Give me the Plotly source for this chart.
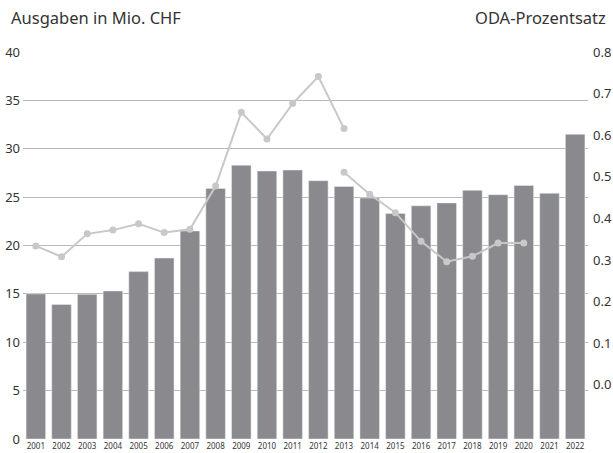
import plotly.graph_objects as go

years = [str(y) for y in range(2001, 2023)]
ausgaben = [15.0, 13.9, 14.95, 15.3, 17.3, 18.7, 21.5, 25.9, 28.3, 27.7, 27.8,
            26.7, 26.1, 24.9, 23.3, 24.1, 24.4, 25.7, 25.25, 26.2, 25.4, 31.5]

# ODA share, old method (2001-2013) and new method (2013-2020)
oda_years_alt = [str(y) for y in range(2001, 2014)]
oda_alt = [0.334, 0.308, 0.363, 0.372, 0.387, 0.366, 0.374, 0.478, 0.655,
           0.591, 0.676, 0.741, 0.616]
oda_years_neu = [str(y) for y in range(2013, 2021)]
oda_neu = [0.511, 0.458, 0.414, 0.345, 0.296, 0.309, 0.341, 0.341]
oda_ticks = [0.0, 0.1, 0.2, 0.3, 0.4, 0.5, 0.6, 0.7, 0.8]

BAR_COLOR = "#8a8a8e"
LINE_COLOR = "#c8c8c8"
GRID_COLOR = "#b8b8b8"
TEXT_COLOR = "#333333"

fig = go.Figure()

fig.add_trace(
    go.Bar(
        x=years,
        y=ausgaben,
        marker_color=BAR_COLOR,
        name="Ausgaben",
    )
)

for xs, ys in [(oda_years_alt, oda_alt), (oda_years_neu, oda_neu)]:
    fig.add_trace(
        go.Scatter(
            x=xs,
            y=ys,
            yaxis="y2",
            mode="lines+markers",
            line=dict(color=LINE_COLOR, width=2),
            marker=dict(color=LINE_COLOR, size=7),
            name="ODA",
        )
    )

fig.update_layout(
    width=613,
    height=453,
    margin=dict(l=23, r=25, t=52, b=14, autoexpand=False),
    plot_bgcolor="white",
    paper_bgcolor="white",
    showlegend=False,
    bargap=0.24,
    font=dict(family="Noto Sans", color=TEXT_COLOR, size=13),
    xaxis=dict(
        type="category",
        range=[-0.5, len(years) - 0.5],
        automargin=False,
        showgrid=False,
        showline=False,
        ticks="",
        tickfont=dict(size=8),
        ticklabelstandoff=1,
    ),
    yaxis=dict(
        range=[0, 40],
        dtick=5,
        automargin=False,
        showgrid=True,
        gridcolor=GRID_COLOR,
        gridwidth=1,
        zeroline=False,
        ticks="",
        ticklabelstandoff=2,
    ),
    yaxis2=dict(
        overlaying="y",
        side="right",
        range=[-0.13, 0.8],
        tickvals=oda_ticks,
        tickformat=".1f",
        automargin=False,
        showgrid=False,
        zeroline=False,
        ticks="",
        ticklabelstandoff=4,
    ),
    annotations=[
        dict(
            text="Ausgaben in Mio. CHF",
            xref="paper", yref="paper",
            x=-0.024, y=1.088,
            xanchor="left", yanchor="middle",
            showarrow=False,
            font=dict(size=16.5, color=TEXT_COLOR),
        ),
        dict(
            text="ODA-Prozentsatz",
            xref="paper", yref="paper",
            x=1.035, y=1.088,
            xanchor="right", yanchor="middle",
            showarrow=False,
            font=dict(size=16.5, color=TEXT_COLOR),
        ),
    ],
)

# drop the browser's default page margin so the figure sits at 0,0
fig.write_html(
    "out.html",
    config={"displayModeBar": False},
    post_script="document.body.style.margin = '0';",
)
